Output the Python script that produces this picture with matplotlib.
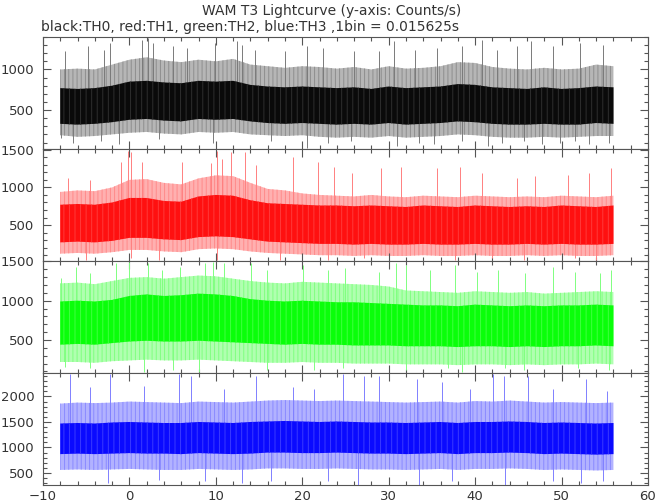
import matplotlib
matplotlib.use('Agg')
import matplotlib.pyplot as plt
from matplotlib.ticker import MultipleLocator

plt.rcParams['hatch.linewidth'] = 0.7

# tempo (s), um ponto a cada 2 s
t = [-8, -6, -4, -2, 0, 2, 4, 6, 8, 10, 12, 14, 16, 18, 20, 22, 24,
     26, 28, 30, 32, 34, 36, 38, 40, 42, 44, 46, 48, 50, 52, 54, 56]

# TH0 (preto): faixa externa e faixa densa
th0_hi = [1000, 1010, 1000, 1060, 1120, 1150, 1110, 1090, 1120, 1100, 1130, 1060, 1040, 1020, 1040, 1030, 1010,
          1030, 1000, 1040, 1010, 1020, 1040, 1090, 1080, 1030, 1010, 1000, 1020, 1000, 1010, 1060, 1040]
th0_core_hi = [770, 760, 770, 800, 850, 860, 840, 830, 860, 850, 860, 810, 790, 780, 790, 780, 770,
               780, 760, 790, 770, 780, 790, 820, 810, 780, 770, 760, 780, 760, 770, 790, 780]
th0_core_lo = [330, 320, 330, 350, 380, 390, 370, 360, 390, 380, 390, 360, 340, 330, 340, 330, 320,
               330, 320, 340, 320, 330, 340, 360, 350, 330, 320, 320, 330, 320, 320, 340, 330]
th0_lo = [190, 170, 180, 200, 220, 230, 210, 200, 230, 220, 230, 200, 190, 180, 190, 170, 160,
          170, 160, 180, 160, 170, 180, 200, 190, 170, 160, 160, 170, 160, 170, 180, 180]
th0_up_t = [-7.5, -4.8, -2.9, -2.3, 1.5, 2.2, 2.75, 5.05, 6.7, 9.9, 12.4, 13.0, 14.5, 18.0, 20.5, 22.4, 26.0,
            28.9, 30.6, 33.1, 35.6, 38.5, 40.8, 42.5, 44.8, 46.5, 49.0, 52.1, 54.8]
th0_up_v = [1225, 1286, 1245, 1327, 1368, 1389, 1327, 1286, 1266, 1327, 1348, 1307, 1245, 1225, 1286, 1266, 1225,
            1225, 1348, 1245, 1266, 1286, 1368, 1245, 1286, 1348, 1286, 1327, 1307]
th0_dn_t = [-7.9, -6.5, -3.3, -1.2, 3.4, 9.7, 16.4, 20.5, 23.0, 25.6, 31.0, 33.5, 35.2, 38.5, 41.5, 43.1,
            45.6, 47.7, 49.8, 51.5, 53.2, 55.5]
th0_dn_v = [160, 98, 118, 77, 139, 98, 118, 36, 98, 118, 57, 98, 77, 118, 57, 98,
            118, 77, 98, 118, 77, 98]

# TH1 (vermelho)
th1_hi = [940, 960, 950, 1000, 1100, 1110, 1060, 1040, 1120, 1160, 1150, 1060, 980, 960, 920, 900, 890,
          880, 900, 880, 870, 890, 880, 870, 890, 880, 870, 880, 870, 890, 880, 870, 890]
th1_core_hi = [770, 780, 770, 800, 860, 860, 820, 810, 880, 900, 890, 830, 790, 780, 770, 760, 760,
               750, 760, 750, 740, 760, 750, 740, 760, 750, 740, 750, 740, 760, 750, 740, 760]
th1_core_lo = [270, 280, 270, 290, 330, 330, 310, 300, 340, 350, 340, 310, 280, 270, 260, 250, 250,
               240, 250, 240, 240, 250, 240, 240, 250, 240, 240, 250, 240, 250, 240, 240, 250]
th1_lo = [120, 130, 120, 140, 170, 170, 150, 140, 180, 190, 180, 150, 130, 120, 110, 100, 100,
          90, 100, 90, 90, 100, 90, 90, 100, 90, 90, 100, 90, 100, 90, 90, 100]
th1_up_t = [-7.1, -4.6, -1.0, -0.2, 0.2, 1.5, 6.1, 9.4, 10.1, 10.7, 11.7, 13.4, 14.7, 18.9, 21.8, 23.7,
            25.8, 29.1, 31.4, 35.6, 38.3, 40.8, 44.8, 46.9, 50.7, 53.2, 55.7]
th1_up_v = [1123, 1100, 1340, 1490, 1470, 1340, 1340, 1318, 1490, 1383, 1470, 1470, 1300, 1405, 1340, 1275,
            1188, 1253, 1275, 1253, 1275, 1188, 1123, 1145, 1166, 1188, 1253]
th1_dn_t = [-5.0, 0.2, 3.4, 10.1, 17.4, 23.0, 27.2, 37.7, 41.9, 45.6, 51.5, 54.0]
th1_dn_v = [40, 60, 40, 40, 40, 40, 60, 40, 60, 40, 60, 40]

# TH2 (verde)
th2_hi = [1220, 1230, 1210, 1250, 1290, 1300, 1280, 1300, 1320, 1310, 1280, 1250, 1230, 1220, 1240, 1230, 1220,
          1210, 1200, 1180, 1130, 1120, 1110, 1100, 1120, 1110, 1100, 1110, 1090, 1100, 1110, 1120, 1110]
th2_core_hi = [990, 1000, 990, 1010, 1060, 1080, 1060, 1070, 1090, 1080, 1060, 1020, 1000, 990, 1000, 990, 980,
               980, 970, 960, 950, 940, 940, 930, 950, 940, 930, 940, 930, 940, 940, 950, 940]
th2_core_lo = [440, 450, 440, 460, 480, 490, 480, 480, 490, 480, 470, 460, 450, 440, 450, 440, 440,
               430, 430, 430, 420, 420, 420, 410, 420, 420, 410, 420, 410, 420, 420, 430, 420]
th2_lo = [220, 220, 210, 230, 240, 250, 240, 240, 250, 240, 230, 220, 210, 210, 220, 210, 210,
          200, 200, 200, 190, 190, 190, 180, 190, 190, 180, 190, 180, 190, 190, 200, 190]
th2_up_t = [-7.9, -6.2, -4.6, -1.6, 0.0, 2.1, 3.8, 5.9, 8.8, 9.7, 10.9, 14.1, 15.9, 20.1, 23.0, 24.9,
            28.9, 30.8, 32.0, 34.8, 37.7, 40.2, 42.7, 45.8, 49.0, 51.5, 54.4, 55.7]
th2_up_v = [1283, 1431, 1347, 1474, 1495, 1474, 1389, 1431, 1474, 1495, 1474, 1474, 1389, 1453, 1389, 1410,
            1368, 1474, 1453, 1389, 1453, 1368, 1389, 1347, 1431, 1368, 1347, 1389]
th2_dn_t = [-7.5, -4.6, 1.7, 5.1, 8.0, 15.9, 21.4, 24.7, 32.0, 36.9, 38.5, 43.5, 45.6, 51.9, 55.5]
th2_dn_v = [161, 140, 98, 119, 98, 119, 119, 140, 119, 140, 98, 140, 119, 140, 119]

# TH3 (azul)
th3_hi = [1860, 1880, 1870, 1880, 1900, 1890, 1880, 1870, 1900, 1890, 1880, 1900, 1920, 1930, 1920, 1910, 1920,
          1910, 1900, 1890, 1880, 1890, 1900, 1880, 1910, 1900, 1920, 1900, 1880, 1890, 1880, 1870, 1880]
th3_core_hi = [1470, 1480, 1470, 1490, 1500, 1490, 1480, 1480, 1500, 1490, 1480, 1500, 1510, 1520, 1510, 1500, 1510,
               1500, 1490, 1490, 1480, 1490, 1500, 1480, 1500, 1500, 1510, 1500, 1480, 1490, 1480, 1470, 1480]
th3_core_lo = [870, 880, 870, 880, 890, 880, 880, 870, 890, 880, 870, 880, 900, 900, 890, 890, 900,
               890, 880, 880, 870, 880, 890, 870, 890, 890, 900, 890, 870, 880, 870, 860, 870]
th3_lo = [560, 570, 560, 570, 580, 570, 560, 560, 580, 570, 560, 570, 590, 590, 580, 580, 590,
          580, 570, 570, 560, 570, 580, 560, 580, 580, 590, 580, 560, 570, 560, 550, 560]
th3_up_t = [-6.9, -4.6, -2.3, 1.7, 5.7, 7.1, 10.9, 14.7, 18.9, 21.4, 24.7, 27.2, 28.9, 33.3, 36.2, 39.4,
            42.1, 43.3, 46.1, 49.0, 52.8, 55.3]
th3_up_v = [2442, 2179, 2442, 2212, 2442, 2409, 2146, 2409, 2179, 2146, 2442, 2409, 2409, 2343, 2278, 2146,
            2442, 2409, 2409, 2146, 2343, 2113]
th3_dn_t = [-2.5, 3.4, 8.8, 13.0, 16.4, 23.0, 26.4, 33.5, 37.3, 43.5, 49.0, 52.3, 54.8]
th3_dn_v = [303, 369, 340, 303, 340, 340, 271, 271, 340, 271, 340, 303, 340]

panels = [
    (th0_hi, th0_core_hi, th0_core_lo, th0_lo, th0_up_t, th0_up_v, th0_dn_t, th0_dn_v,
     '#0a0a0a', '#2e2e2e', '#b6b6b6', '#8e8e8e', '#7a7a7a', (20, 1400), 560),
    (th1_hi, th1_core_hi, th1_core_lo, th1_lo, th1_up_t, th1_up_v, th1_dn_t, th1_dn_v,
     '#ff1010', '#ff3a3a', '#ffb0b0', '#ff8a8a', '#ff8080', (23, 1510), 500),
    (th2_hi, th2_core_hi, th2_core_lo, th2_lo, th2_up_t, th2_up_v, th2_dn_t, th2_dn_v,
     '#0aff0a', '#40ff40', '#b0ffb0', '#80ff80', '#80ff80', (80, 1505), 680),
    (th3_hi, th3_core_hi, th3_core_lo, th3_lo, th3_up_t, th3_up_v, th3_dn_t, th3_dn_v,
     '#0a0aff', '#3a3aff', '#b2b2ff', '#8a8aff', '#8080ff', (265, 2460), 1180),
]

fig = plt.figure(figsize=(6.57, 5.04), dpi=100)
gs = fig.add_gridspec(4, 1, left=0.0654, right=0.9863, top=0.9266, bottom=0.0377, hspace=0)

for i, (hi, chi, clo, lo, ut, uv, dt, dv, cor, cor_h, clara, clara_h, media, ylim, nivel) in enumerate(panels):
    ax = fig.add_subplot(gs[i])
    # faixa externa (menos densa) com riscos verticais
    ax.fill_between(t, lo, hi, facecolor=clara, edgecolor=clara_h, hatch='||||', lw=0, zorder=1)
    ax.vlines(ut, nivel, uv, color=media, lw=0.7, zorder=2)
    ax.vlines(dt, dv, nivel, color=media, lw=0.7, zorder=2)
    # faixa central densa
    ax.fill_between(t, clo, chi, facecolor=cor, edgecolor=cor_h, hatch='|||', lw=0, zorder=3)
    ax.set_xlim(-10, 60)
    ax.set_ylim(*ylim)
    ax.xaxis.set_major_locator(MultipleLocator(10))
    ax.xaxis.set_minor_locator(MultipleLocator(2))
    ax.yaxis.set_major_locator(MultipleLocator(500))
    ax.yaxis.set_minor_locator(MultipleLocator(100))
    ax.tick_params(which='both', direction='in', top=True, right=True, color='#555555',
                   labelsize=9.5, labelcolor='#333333', width=0.8)
    ax.tick_params(which='major', length=6)
    ax.tick_params(which='minor', length=3)
    ax.tick_params(axis='y', pad=6)
    if i < 3:
        ax.tick_params(labelbottom=False)
    for s in ax.spines.values():
        s.set_color('#555555')
        s.set_linewidth(0.8)

fig.text(0.505, 0.978, 'WAM T3 Lightcurve (y-axis: Counts/s)', ha='center', va='center',
         fontsize=10, color='#333333')
fig.text(0.063, 0.947, 'black:TH0, red:TH1, green:TH2, blue:TH3 ,1bin = 0.015625s', ha='left', va='center',
         fontsize=10, color='#333333')

fig.savefig('out.png', dpi=100)
